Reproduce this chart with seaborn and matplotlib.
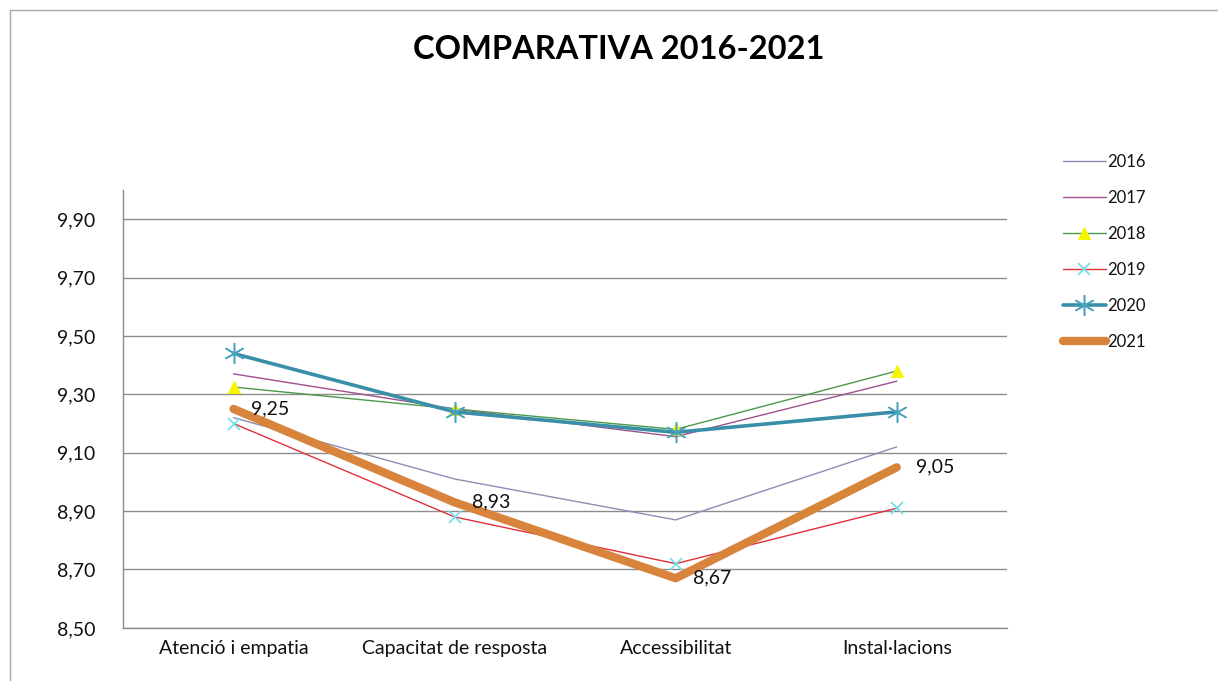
import matplotlib
matplotlib.use("Agg")
import matplotlib.pyplot as plt
import matplotlib.patches as mpatches
from matplotlib.ticker import FuncFormatter, FixedLocator
import seaborn as sns
import pandas as pd

# Survey dimensions and yearly scores
categories = ["Atenció i empatia", "Capacitat de resposta", "Accessibilitat", "Instal·lacions"]
years = ["2016", "2017", "2018", "2019", "2020", "2021"]
s2016 = [9.22, 9.01, 8.87, 9.12]
s2017 = [9.37, 9.25, 9.155, 9.345]
s2018 = [9.325, 9.25, 9.18, 9.38]
s2019 = [9.20, 8.88, 8.72, 8.91]
s2020 = [9.44, 9.24, 9.17, 9.24]
s2021 = [9.25, 8.93, 8.67, 9.05]
yticks = [8.50, 8.70, 8.90, 9.10, 9.30, 9.50, 9.70, 9.90]

series = [s2016, s2017, s2018, s2019, s2020, s2021]
df = pd.DataFrame({
    "categoria": categories * len(years),
    "any": [y for y in years for _ in categories],
    "valor": [v for s in series for v in s],
})

sns.set_theme(style="white")
plt.rcParams["font.family"] = ["Lato", "DejaVu Sans"]

fig = plt.figure(figsize=(12.18, 6.81), dpi=100)
ax = fig.add_axes([0.101, 0.078, 0.726, 0.643])

styles = {
    "2016": dict(color="#8c8db4", lw=1.0, marker=None),
    "2017": dict(color="#a0508e", lw=1.0, marker=None),
    "2018": dict(color="#4a9a4a", lw=1.0, marker="^", ms=8, mfc="#f5f500", mec="#f5f500"),
    "2019": dict(color="#e0303c", lw=1.0, marker="x", ms=9, mfc="#6fdcea", mec="#6fdcea", mew=1.2),
    "2020": dict(color="#3a8fa8", lw=2.6, marker=(6, 2, 0), ms=15, mfc="#4aa3bd", mec="#4aa3bd", mew=1.1),
    "2021": dict(color="#d8843c", lw=6.0, marker=None),
}

for yr in years:
    st = dict(styles[yr])
    sub = df[df["any"] == yr]
    kw = dict(color=st.pop("color"), linewidth=st.pop("lw"))
    mk = st.pop("marker")
    if mk is not None:
        kw["marker"] = mk
        kw["markersize"] = st.pop("ms")
        kw["markerfacecolor"] = st.pop("mfc")
        kw["markeredgecolor"] = st.pop("mec")
        if "mew" in st:
            kw["markeredgewidth"] = st.pop("mew")
    sns.lineplot(data=sub, x="categoria", y="valor", ax=ax, label=yr,
                 sort=False, solid_capstyle="round", **kw)

# Value labels for 2021, placed to the right of each point
for i, v in enumerate(s2021):
    dx = 14 if i == 3 else 12.5
    ax.annotate(f"{v:.2f}".replace(".", ","), (i, v), xytext=(dx, 0),
                textcoords="offset points", ha="left", va="center",
                fontsize=14, color="#111111")

ax.set_xlim(-0.5, 3.5)
ax.set_ylim(8.5, 10.0)
ax.yaxis.set_major_locator(FixedLocator(yticks))
ax.yaxis.set_major_formatter(FuncFormatter(lambda v, p: f"{v:.2f}".replace(".", ",")))
ax.grid(axis="y", color="#8c8c8c", linewidth=1.0)
ax.set_axisbelow(True)
ax.set_xlabel("")
ax.set_ylabel("")
for side in ["top", "right"]:
    ax.spines[side].set_visible(False)
for side in ["left", "bottom"]:
    ax.spines[side].set_color("#8c8c8c")
    ax.spines[side].set_linewidth(1.0)
ax.tick_params(axis="x", length=0, labelsize=14, colors="#111111", pad=9)
ax.tick_params(axis="y", length=0, labelsize=14, colors="#111111", pad=20)

ax.legend(loc="upper left", bbox_to_anchor=(1.0455, 1.117), frameon=False,
          fontsize=12, handlelength=2.6, handletextpad=0.1, labelspacing=1.2,
          labelcolor="#111111")

fig.text(0.508, 0.927, "COMPARATIVA 2016-2021", ha="center", va="center",
         fontsize=23.5, fontweight="bold", color="#000000")

fig.patches.append(mpatches.Rectangle((10 / 1218, -0.05), 1.2, 1 - 10 / 681 + 0.05,
                                      transform=fig.transFigure, fill=False,
                                      edgecolor="#a8a8a8", linewidth=1.0))

fig.savefig("out.png", dpi=100)
